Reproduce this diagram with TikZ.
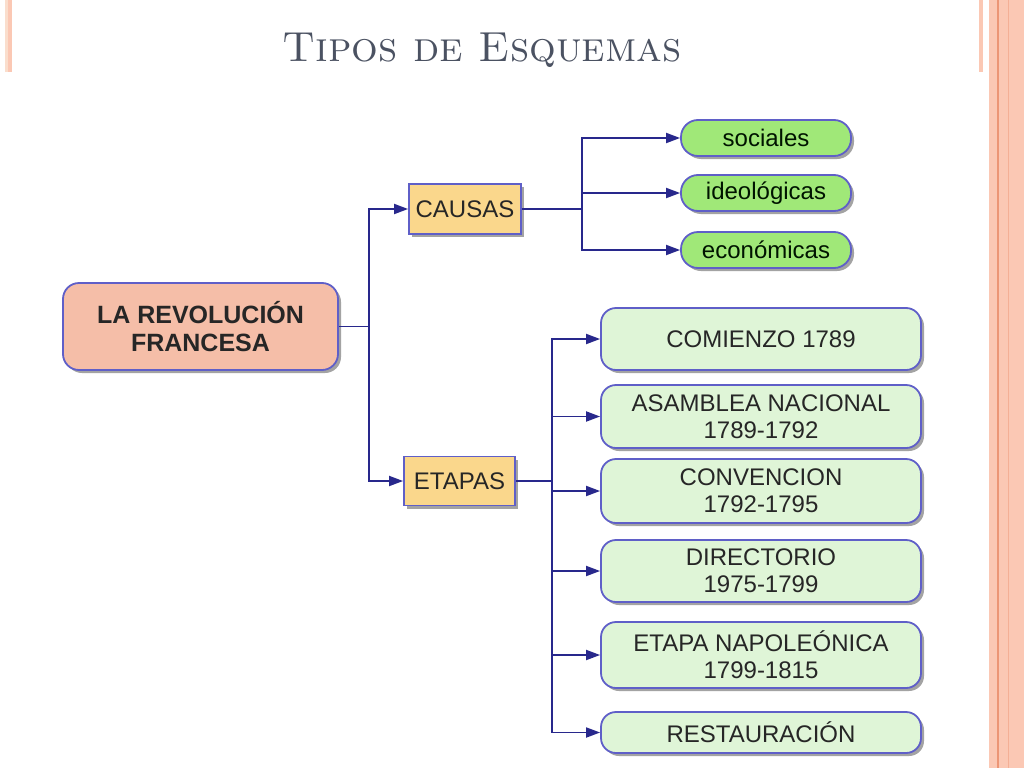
\documentclass[tikz,border=0pt]{standalone}
\usepackage{fontspec}
\newfontfamily\arialfont{Liberation Sans}
\usetikzlibrary{arrows.meta,shadows}

\definecolor{titlegrey}{RGB}{75,82,98}
\definecolor{stripe}{RGB}{251,200,180}
\definecolor{stripelight}{RGB}{250,222,205}
\definecolor{stripedark}{RGB}{236,150,118}
\definecolor{boxline}{RGB}{95,95,200}
\definecolor{linkblue}{RGB}{40,40,140}
\definecolor{rootfill}{RGB}{245,190,168}
\definecolor{mainfill}{RGB}{250,215,140}
\definecolor{pillfill}{RGB}{160,232,120}
\definecolor{stagefill}{RGB}{223,245,215}

\begin{document}
\begin{tikzpicture}[x=1pt,y=-1pt,
		box/.style={draw=boxline,line width=1.8pt,inner sep=0pt,align=center,text=black!85,
			font=\arialfont\fontsize{24}{27}\selectfont,
			drop shadow={shadow xshift=3pt,shadow yshift=-3pt,fill=black!45,opacity=0.8}},
		link/.style={draw=linkblue,line width=1.8pt},
		arrow/.style={link,-{Triangle[length=14pt,width=10pt]}}]
		
		\useasboundingbox (0,0) rectangle (1024,768);
		\fill[white] (0,0) rectangle (1024,768);
		
		% page border
		\fill[stripelight] (5,0) rectangle (8,72);
		\fill[stripe] (8,0) rectangle (12,72);
		\fill[stripe] (979,0) rectangle (983,72);
		\fill[stripe] (989,0) rectangle (1024,768);
		\draw[stripedark,line width=1.5pt] (998,0) -- (998,768);
		\draw[stripedark!50!stripe,line width=1pt] (1008,0) -- (1008,768);
		
		\node (title) at (482,50) [font=\fontsize{42}{45}\selectfont,text=titlegrey] {\textsc{Tipos de Esquemas}};
		
		\node (root) at (200.5,326.5) [box,fill=rootfill,rounded corners=16pt,minimum width=275pt,minimum height=87pt,font=\arialfont\bfseries\fontsize{25}{28}\selectfont] {LA REVOLUCIÓN\\FRANCESA};
		\node (causas) at (465,209) [box,fill=mainfill,minimum width=112pt,minimum height=50pt] {CAUSAS};
		\node (etapas) at (459.5,481) [box,fill=mainfill,minimum width=111pt,minimum height=49pt] {ETAPAS};
		
		\draw[link] (root.east) -- ++(30,0) coordinate (jR);
		\draw[arrow] (jR) |- (causas.west);
		\draw[arrow] (jR) |- (etapas.west);
		
		% causas
		\draw[link] (causas.east) -- ++(60,0) coordinate (jC);
		\foreach \n/\y/\t in {1/138/sociales, 2/193/ideológicas, 3/250/económicas} {
			\node (s\n) at (766,\y) [box,fill=pillfill,rounded corners=17pt,minimum width=170pt,minimum height=36pt,text=black!80!green!40!black] {\t};
			\draw[arrow] (jC) |- (s\n.west);
		}
		
		% etapas
		\draw[link] (etapas.east) -- ++(36,0) coordinate (jE);
		\foreach \n/\y/\h/\t in {1/339/62/{COMIENZO 1789}, 2/416.5/63/{ASAMBLEA NACIONAL\\1789-1792}, 3/491/64/{CONVENCION\\1792-1795}, 4/571/62/{DIRECTORIO\\1975-1799}, 5/655/66/{ETAPA NAPOLEÓNICA\\1799-1815}, 6/732.5/41/{RESTAURACIÓN}} {
			\node (e\n) at (761,\y) [box,fill=stagefill,rounded corners=15pt,minimum width=320pt,minimum height=\h pt] {\t};
			\draw[arrow] (jE) |- (e\n.west);
		}
		
	\end{tikzpicture}
\end{document}
